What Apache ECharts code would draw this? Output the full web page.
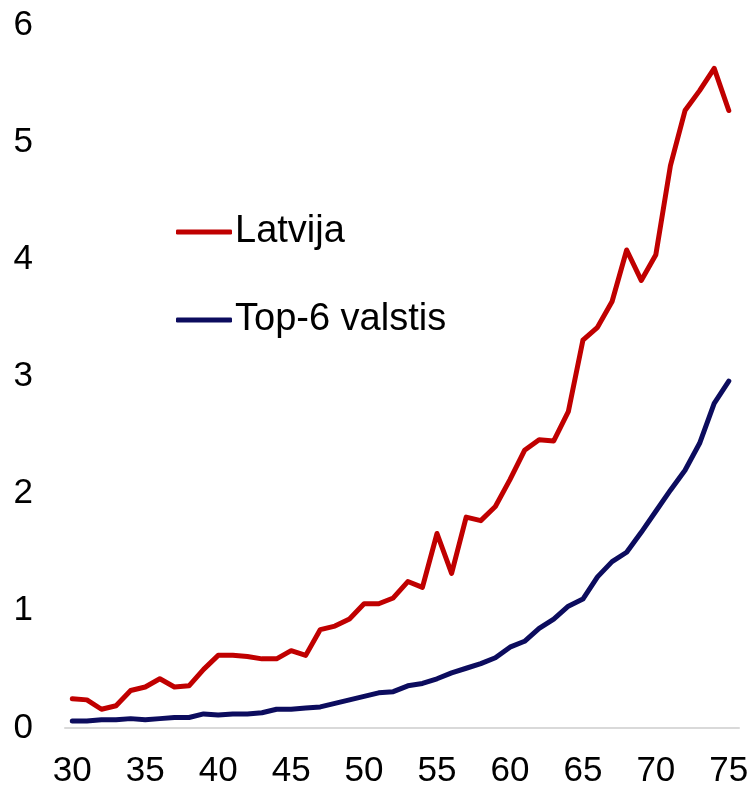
<!DOCTYPE html>
<html>
<head>
<meta charset="utf-8">
<title>Latvija / Top-6 valstis</title>
<script src="https://cdn.jsdelivr.net/npm/echarts@6/dist/echarts.min.js"></script>
<style>
    html, body { margin: 0; padding: 0; background: #fff; }
    #line-charts { width: 753px; height: 789px; }
</style>
</head>
<body>
<div id="line-charts"></div>
<script>
// x values (age)
const ages = [30, 31, 32, 33, 34, 35, 36, 37, 38, 39, 40, 41, 42, 43, 44, 45,
    46, 47, 48, 49, 50, 51, 52, 53, 54, 55, 56, 57, 58, 59, 60, 61, 62, 63,
    64, 65, 66, 67, 68, 69, 70, 71, 72, 73, 74, 75];
// Latvija
const latvija = [0.25, 0.24, 0.16, 0.19, 0.32, 0.35, 0.42, 0.35, 0.36, 0.50,
    0.62, 0.62, 0.61, 0.59, 0.59, 0.66, 0.62, 0.84, 0.87, 0.93, 1.06, 1.06,
    1.11, 1.25, 1.20, 1.66, 1.32, 1.80, 1.77, 1.89, 2.12, 2.37, 2.46, 2.45,
    2.70, 3.31, 3.42, 3.64, 4.08, 3.82, 4.04, 4.80, 5.27, 5.44, 5.63, 5.27];
// Top-6 valstis
const top6 = [0.06, 0.06, 0.07, 0.07, 0.08, 0.07, 0.08, 0.09, 0.09, 0.12,
    0.11, 0.12, 0.12, 0.13, 0.16, 0.16, 0.17, 0.18, 0.21, 0.24, 0.27, 0.30,
    0.31, 0.36, 0.38, 0.42, 0.47, 0.51, 0.55, 0.60, 0.69, 0.74, 0.85, 0.93,
    1.04, 1.10, 1.29, 1.42, 1.50, 1.67, 1.85, 2.03, 2.20, 2.43, 2.77, 2.96];
// tick labels
const xTicks = [30, 35, 40, 45, 50, 55, 60, 65, 70, 75];

const font = 'Liberation Sans, Arial, sans-serif';

let myChart = echarts.init(document.getElementById('line-charts'));

myChart.setOption({
    animation: false,
    textStyle: { fontFamily: font },
    grid: {
        left: 65,
        right: 14,
        top: 25,
        bottom: 61,
        containLabel: false
    },
    // legend drawn as thick round-capped bars, like the line samples
    legend: {
        orient: 'vertical',
        left: 176,
        top: 212,
        padding: 0,
        itemGap: 48,
        itemWidth: 56,
        itemHeight: 5,
        icon: 'roundRect',
        data: ['Latvija', 'Top-6 valstis'],
        textStyle: { fontSize: 38, lineHeight: 40, color: '#000', fontFamily: font, padding: [0, 0, 0, -2] }
    },
    xAxis: {
        type: 'value',
        min: 29.5,
        max: 75.7,
        splitLine: { show: false },
        axisTick: { show: false },
        axisLine: { show: true, lineStyle: { color: '#d9d9d9', width: 2 } },
        axisLabel: {
            customValues: xTicks,
            fontSize: 35,
            color: '#000',
            margin: 26
        }
    },
    yAxis: {
        type: 'value',
        min: 0,
        max: 6,
        interval: 1,
        splitLine: { show: false },
        axisTick: { show: false },
        axisLine: { show: false },
        axisLabel: {
            fontSize: 35,
            color: '#000',
            margin: 32,
            padding: [6, 0, 0, 0]
        }
    },
    series: [
        {
            name: 'Latvija',
            type: 'line',
            symbol: 'none',
            color: '#c00000',
            lineStyle: { width: 5, cap: 'round', join: 'round' },
            data: ages.map((a, i) => [a, latvija[i]])
        },
        {
            name: 'Top-6 valstis',
            type: 'line',
            symbol: 'none',
            color: '#0c0c5e',
            lineStyle: { width: 5, cap: 'round', join: 'round' },
            data: ages.map((a, i) => [a, top6[i]])
        }
    ]
});
</script>
</body>
</html>
